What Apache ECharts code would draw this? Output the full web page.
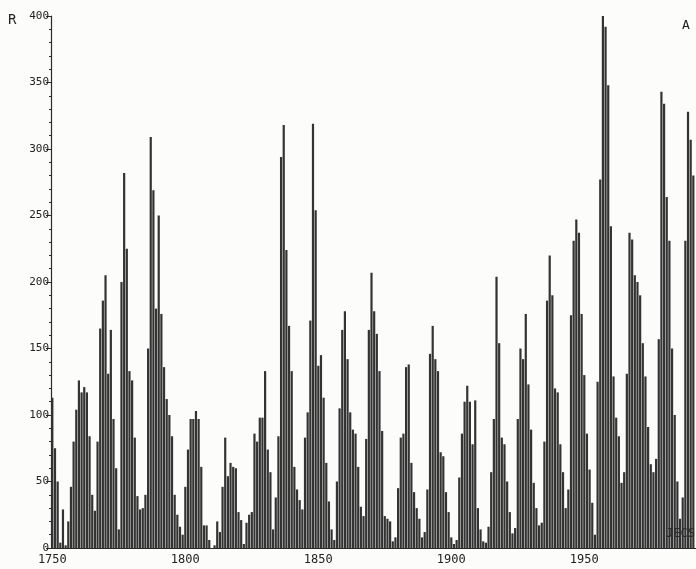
<!DOCTYPE html>
<html>
<head>
<meta charset="utf-8">
<script src="https://cdn.jsdelivr.net/npm/echarts@6/dist/echarts.min.js"></script>
<style>
html,body{margin:0;padding:0;background:#fcfcfa;}
#c{width:696px;height:569px;}
</style>
</head>
<body>
<div id="c"></div>
<script>
// Years 1750..1991, one bar per year
var startYear = 1750;
var sunspotR = [
// 1750-1759
113, 75, 50, 4, 29, 2, 20, 46, 80, 104,
// 1760-1769
126, 117, 121, 117, 84, 40, 28, 80, 165, 186,
// 1770-1779
205, 131, 164, 97, 60, 14, 200, 282, 225, 133,
// 1780-1789
126, 83, 39, 29, 30, 40, 150, 309, 269, 180,
// 1790-1799
250, 176, 136, 112, 100, 84, 40, 25, 16, 10,
// 1800-1809
46, 74, 97, 97, 103, 97, 61, 17, 17, 6,
// 1810-1819
0, 2, 20, 12, 46, 83, 54, 64, 61, 60,
// 1820-1829
27, 21, 3, 19, 25, 27, 86, 80, 98, 98,
// 1830-1839
133, 74, 57, 14, 38, 84, 294, 318, 224, 167,
// 1840-1849
133, 61, 44, 36, 29, 83, 102, 171, 319, 254,
// 1850-1859
137, 145, 113, 64, 35, 14, 6, 50, 105, 164,
// 1860-1869
178, 142, 102, 89, 86, 61, 31, 24, 82, 164,
// 1870-1879
207, 178, 161, 133, 88, 24, 22, 20, 5, 8,
// 1880-1889
45, 83, 86, 136, 138, 64, 42, 30, 22, 8,
// 1890-1899
12, 44, 146, 167, 142, 133, 72, 69, 42, 27,
// 1900-1909
8, 3, 6, 53, 86, 110, 122, 110, 78, 111,
// 1910-1919
30, 14, 5, 4, 16, 57, 97, 204, 154, 83,
// 1920-1929
78, 50, 27, 11, 15, 97, 150, 142, 176, 123,
// 1930-1939
89, 49, 30, 17, 19, 80, 186, 220, 190, 120,
// 1940-1949
117, 78, 57, 30, 44, 175, 231, 247, 237, 176,
// 1950-1959
130, 86, 59, 34, 10, 125, 277, 403, 392, 348,
// 1960-1969
242, 129, 98, 84, 49, 57, 131, 237, 232, 205,
// 1970-1979
200, 190, 154, 129, 91, 63, 57, 67, 157, 343,
// 1980-1989
334, 264, 231, 150, 100, 50, 22, 38, 231, 328,
// 1990-1991
307, 280
];
var yearTicks = [1750, 1800, 1850, 1900, 1950];
var yTickLabels = ['0','50','100','150','200','250','300','350','400'];

var barData = sunspotR.map(function(v, i){ return [startYear + i, v]; });

var chart = echarts.init(document.getElementById('c'), null, {renderer:'canvas'});
var font = 'DejaVu Sans Mono, Liberation Mono, monospace';
chart.setOption({
  backgroundColor: '#fcfcfa',
  animation: false,
  grid: {left: 51, right: 0, top: 16, bottom: 21, containLabel: false},
  xAxis: {
    type: 'value',
    min: 1749.5,
    max: 1992,
    axisLine: {show: true, onZero: false, lineStyle: {color: '#2a2a2a', width: 1.2}},
    axisTick: {show: false},
    splitLine: {show: false},
    axisLabel: {
      customValues: yearTicks,
      color: '#222',
      fontFamily: font,
      fontSize: 12,
      margin: 6,
      formatter: function(v){ return String(Math.round(v)); }
    }
  },
  yAxis: {
    type: 'value',
    min: 0,
    max: 400,
    interval: 50,
    axisLine: {show: true, lineStyle: {color: '#2a2a2a', width: 1.2}},
    axisTick: {show: true, length: 5, lineStyle: {color: '#2a2a2a'}},
    minorTick: {show: true, splitNumber: 5, length: 2, lineStyle: {color: '#2a2a2a'}},
    splitLine: {show: false},
    axisLabel: {
      color: '#222',
      fontFamily: font,
      fontSize: 11,
      margin: 2,
      formatter: function(v){ return yTickLabels[Math.round(v/50)] || ''; }
    }
  },
  series: [{
    type: 'bar',
    data: barData,
    barWidth: 2.2,
    itemStyle: {color: '#333333'},
    emphasis: {disabled: true}
  }],
  graphic: [
    {type: 'text', left: 8, top: 13, style: {text: 'R', fill: '#222', font: '14px ' + font}},
    {type: 'text', left: 682, top: 19, style: {text: 'A', fill: '#222', font: '13px ' + font}},
    {type: 'text', left: 666, top: 528, z: 100, style: {text: 'JECS', fill: '#2a2a2a', font: '12px ' + font}}
  ]
});
</script>
</body>
</html>
